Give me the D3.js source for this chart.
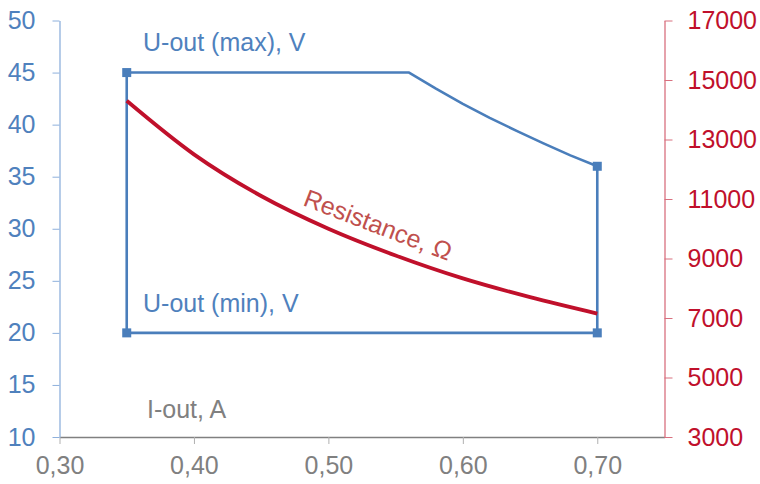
<!DOCTYPE html>
<html>
<head>
<meta charset="utf-8">
<script src="https://cdn.jsdelivr.net/npm/d3@7"></script>
<style>
  html, body { margin: 0; padding: 0; background: #fff; }
  #chart { width: 760px; height: 484px; }
  text { font-family: "Liberation Sans", Arial, sans-serif; }
</style>
</head>
<body>
<div id="chart"></div>
<script>
// Output range of the supply: U-out window and load resistance vs I-out

// current (A) along the max-voltage boundary and the voltage there (V)
const maxCurrent = [0.35, 0.56, 0.58, 0.60, 0.62, 0.64, 0.66, 0.68, 0.70]
const maxVoltage = [45, 45, 43.45, 42, 40.65, 39.4, 38.2, 37.05, 36]
// min-voltage boundary
const minCurrent = [0.35, 0.70]
const minVoltage = [20, 20]
// load resistance (Ohm)
const resCurrent = [0.35, 0.40, 0.45, 0.50, 0.55, 0.60, 0.65, 0.70]
const resistance = [14300, 12500, 11100, 10000, 9100, 8330, 7700, 7150]

const xTicks = [0.30, 0.40, 0.50, 0.60, 0.70]
const leftTicks = [10, 15, 20, 25, 30, 35, 40, 45, 50]
const rightTicks = [3000, 5000, 7000, 9000, 11000, 13000, 15000, 17000]

const WIDTH = 760
const HEIGHT = 484
const MARGIN = { TOP: 20.5, RIGHT: 95.5, BOTTOM: 47, LEFT: 59.5 }
const FONT = 25

const BLUE = "#4a7ebb"
const BLUE_TEXT = "#4f81bd"
const RED = "#c0102b"
const GRAY = "#808080"

const svg = d3.select("#chart")
  .append("svg")
  .attr("width", WIDTH)
  .attr("height", HEIGHT)

const x = d3.scaleLinear()
  .domain([0.30, 0.75])
  .range([MARGIN.LEFT, WIDTH - MARGIN.RIGHT])
const yLeft = d3.scaleLinear()
  .domain([10, 50])
  .range([HEIGHT - MARGIN.BOTTOM, MARGIN.TOP])
const yRight = d3.scaleLinear()
  .domain([3000, 17000])
  .range([HEIGHT - MARGIN.BOTTOM, MARGIN.TOP])

// AXES
const xAxis = svg.append("g")
  .attr("transform", `translate(0,${HEIGHT - MARGIN.BOTTOM})`)
  .call(d3.axisBottom(x)
    .tickValues(xTicks)
    .tickSize(7)
    .tickSizeOuter(0)
    .tickPadding(12)
    .tickFormat(d => d3.format(".2f")(d).replace(".", ",")))
xAxis.select(".domain").attr("stroke", GRAY).attr("stroke-width", 1.3)
xAxis.selectAll(".tick line").attr("stroke", "#b0b0b0")
xAxis.selectAll("text")
  .attr("fill", GRAY)
  .attr("font-size", FONT)

const leftAxis = svg.append("g")
  .attr("transform", `translate(${MARGIN.LEFT},0)`)
  .call(d3.axisLeft(yLeft)
    .tickValues(leftTicks)
    .tickSize(7)
    .tickSizeOuter(0)
    .tickPadding(17))
leftAxis.select(".domain").attr("stroke", "#8eb0dc").attr("stroke-width", 1.3)
leftAxis.selectAll(".tick line").attr("stroke", "#8eb0dc")
leftAxis.selectAll("text")
  .attr("fill", BLUE_TEXT)
  .attr("font-size", FONT)

const rightAxis = svg.append("g")
  .attr("transform", `translate(${WIDTH - MARGIN.RIGHT},0)`)
  .call(d3.axisRight(yRight)
    .tickValues(rightTicks)
    .tickSize(8)
    .tickSizeOuter(0)
    .tickPadding(15)
    .tickFormat(d3.format("d")))
rightAxis.select(".domain").attr("stroke", "#d8707f").attr("stroke-width", 1.3)
rightAxis.selectAll(".tick line").attr("stroke", "#d8707f")
rightAxis.selectAll("text")
  .attr("fill", RED)
  .attr("font-size", FONT)

// OUTPUT WINDOW (blue outline)
const outline = [[minCurrent[0], minVoltage[0]]]
  .concat(maxCurrent.map((c, i) => [c, maxVoltage[i]]))
  .concat([[minCurrent[1], minVoltage[1]], [minCurrent[0], minVoltage[0]]])

svg.append("path")
  .datum(outline)
  .attr("fill", "none")
  .attr("stroke", BLUE)
  .attr("stroke-width", 2.6)
  .attr("stroke-linejoin", "round")
  .attr("d", d3.line()
    .x(d => x(d[0]))
    .y(d => yLeft(d[1])))

const corners = [
  [maxCurrent[0], maxVoltage[0]],
  [maxCurrent[maxCurrent.length - 1], maxVoltage[maxVoltage.length - 1]],
  [minCurrent[0], minVoltage[0]],
  [minCurrent[1], minVoltage[1]]
]
svg.selectAll("rect.marker")
  .data(corners)
  .enter()
  .append("rect")
    .attr("class", "marker")
    .attr("x", d => x(d[0]) - 4.5)
    .attr("y", d => yLeft(d[1]) - 4.5)
    .attr("width", 9)
    .attr("height", 9)
    .attr("fill", BLUE)

// RESISTANCE CURVE
svg.append("path")
  .datum(resCurrent.map((c, i) => [c, resistance[i]]))
  .attr("fill", "none")
  .attr("stroke", RED)
  .attr("stroke-width", 3.8)
  .attr("d", d3.line()
    .curve(d3.curveMonotoneX)
    .x(d => x(d[0]))
    .y(d => yRight(d[1])))

// LABELS
svg.append("text")
  .attr("x", 143)
  .attr("y", 51)
  .attr("fill", BLUE_TEXT)
  .attr("font-size", FONT)
  .text("U-out (max), V")

svg.append("text")
  .attr("x", 143)
  .attr("y", 312)
  .attr("fill", BLUE_TEXT)
  .attr("font-size", FONT)
  .text("U-out (min), V")

svg.append("text")
  .attr("x", 147)
  .attr("y", 418)
  .attr("fill", GRAY)
  .attr("font-size", FONT)
  .text("I-out, A")

svg.append("text")
  .attr("transform", "translate(302,205) rotate(21)")
  .attr("fill", "#c0504d")
  .attr("font-size", FONT)
  .text("Resistance, Ω")
</script>
</body>
</html>
